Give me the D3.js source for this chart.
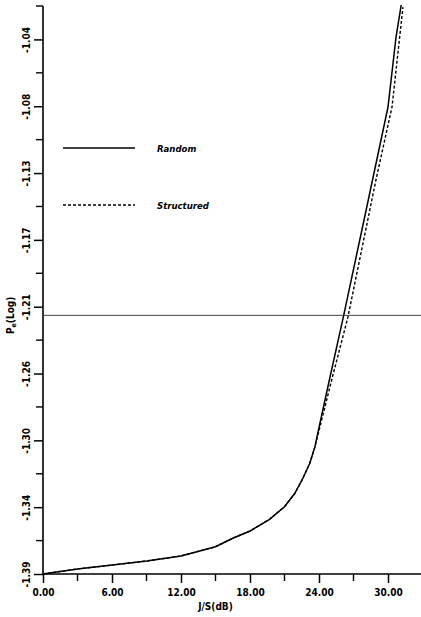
<!DOCTYPE html>
<html>
<head>
<meta charset="utf-8">
<script src="https://cdn.jsdelivr.net/npm/d3@7"></script>
<style>
  body { margin: 0; background: #fff; }
  svg text { font-family: "DejaVu Sans Condensed", "DejaVu Sans", sans-serif; font-weight: bold; fill: #000; }
</style>
</head>
<body>
<div id="chart"></div>
<script>
// J/S in dB
let jsRandom = [0, 3, 6, 9, 12, 15, 16.5, 18, 19.7, 21, 21.9, 22.6, 23.2, 23.65, 23.95, 24.9, 26.1, 28.1, 30, 30.7, 31.15];
let peRandom = [-1.386, -1.3827, -1.3802, -1.3776, -1.3743, -1.3683, -1.3628, -1.3581, -1.3505, -1.3423, -1.3336, -1.3238, -1.3141, -1.3033, -1.2925, -1.2600, -1.2197, -1.1496, -1.0827, -1.0372, -1.0164];

let jsStructured = [0, 3, 6, 9, 12, 15, 16.5, 18, 19.7, 21, 21.9, 22.6, 23.2, 23.65, 23.98, 25.1, 26.5, 28.95, 30.35, 31.3];
let peStructured = [-1.386, -1.3827, -1.3802, -1.3776, -1.3743, -1.3683, -1.3628, -1.3581, -1.3505, -1.3423, -1.3336, -1.3238, -1.3141, -1.3033, -1.2935, -1.2600, -1.2197, -1.1301, -1.0827, -1.0178];

let thresholdPe = -1.218;

let xTickValues = [0, 6, 12, 18, 24, 30];
let xTickLabels = ["0.00", "6.00", "12.00", "18.00", "24.00", "30.00"];
let yTickValues = [-1.386, -1.3426, -1.2992, -1.2558, -1.2124, -1.169, -1.1256, -1.0822, -1.0388];
let yTickLabels = ["-1.39", "-1.34", "-1.30", "-1.26", "-1.21", "-1.17", "-1.13", "-1.08", "-1.04"];

let seriesNames = ["Random", "Structured"];

let W = 421, H = 617;
let margin = {top: 6, right: 0, bottom: 43, left: 43},
    width = W - margin.left - margin.right,
    height = H - margin.top - margin.bottom;

let svg = d3.select("#chart")
  .append("svg")
    .attr("width", W)
    .attr("height", H)
  .append("g")
    .attr("transform", "translate(" + margin.left + "," + margin.top + ")");

let x = d3.scaleLinear()
  .domain([0, width / 11.5])
  .range([0, width]);

let y = d3.scaleLinear()
  .domain([-1.386, -1.386 + 8.5 * 0.0434])
  .range([height, 0]);

// minor ticks
let xMinor = d3.range(3, 33, 6);
let yMinor = yTickValues.map(function(v) { return v + 0.0217; });

// X axis
let xAxis = d3.axisBottom(x)
  .tickValues(xTickValues)
  .tickFormat(function(d, i) { return xTickLabels[i]; })
  .tickSize(9)
  .tickPadding(6);

let gx = svg.append("g")
  .attr("transform", "translate(0," + height + ")")
  .call(xAxis);
gx.select(".domain").attr("stroke-width", 1.6).attr("d", "M0,0H" + width);
gx.selectAll(".tick line").attr("stroke-width", 1.5);
gx.selectAll("text").style("font-size", "10px");
gx.selectAll(".minor")
  .data(xMinor)
  .enter()
  .append("line")
    .attr("x1", function(d) { return x(d); })
    .attr("x2", function(d) { return x(d); })
    .attr("y1", 0)
    .attr("y2", 7)
    .attr("stroke", "#000")
    .attr("stroke-width", 1.4);

// Y axis
let yAxis = d3.axisLeft(y)
  .tickValues(yTickValues)
  .tickFormat(function(d, i) { return yTickLabels[i]; })
  .tickSize(9)
  .tickPadding(0);

let gy = svg.append("g").call(yAxis);
gy.select(".domain").attr("stroke-width", 1.6).attr("d", "M0," + height + "V0");
gy.selectAll(".tick line").attr("stroke-width", 1.5);
gy.selectAll("text")
  .style("font-size", "10px")
  .attr("text-anchor", "middle")
  .attr("dy", null)
  .attr("x", null)
  .attr("transform", "translate(-13,0) rotate(-90)");
gy.selectAll(".minor")
  .data(yMinor)
  .enter()
  .append("line")
    .attr("x1", -7)
    .attr("x2", 0)
    .attr("y1", function(d) { return y(d); })
    .attr("y2", function(d) { return y(d); })
    .attr("stroke", "#000")
    .attr("stroke-width", 1.4);

// threshold line
svg.append("line")
  .attr("x1", 0)
  .attr("x2", width)
  .attr("y1", y(thresholdPe))
  .attr("y2", y(thresholdPe))
  .attr("stroke", "#444")
  .attr("stroke-width", 1);

// curves
let line = d3.line()
  .x(function(d) { return x(d[0]); })
  .y(function(d) { return y(d[1]); });

svg.append("path")
  .datum(d3.zip(jsStructured, peStructured))
  .attr("d", line)
  .attr("fill", "none")
  .attr("stroke", "#000")
  .attr("stroke-width", 1.4)
  .attr("stroke-dasharray", "3,2");

svg.append("path")
  .datum(d3.zip(jsRandom, peRandom))
  .attr("d", line)
  .attr("fill", "none")
  .attr("stroke", "#000")
  .attr("stroke-width", 1.5);

// legend
let legend = svg.append("g").attr("transform", "translate(20,142)");
legend.selectAll("line")
  .data(seriesNames)
  .enter()
  .append("line")
    .attr("x1", 0)
    .attr("x2", 72)
    .attr("y1", function(d, i) { return i * 57; })
    .attr("y2", function(d, i) { return i * 57; })
    .attr("stroke", "#000")
    .attr("stroke-width", 1.4)
    .attr("stroke-dasharray", function(d, i) { return i ? "3,2" : null; });
legend.selectAll("text")
  .data(seriesNames)
  .enter()
  .append("text")
    .attr("x", 94)
    .attr("y", function(d, i) { return i * 57 + 4; })
    .style("font-size", "9.5px")
    .style("font-style", "italic")
    .text(function(d) { return d; });

// axis titles
svg.append("text")
  .attr("x", x(15))
  .attr("y", height + 36)
  .attr("text-anchor", "middle")
  .style("font-size", "10px")
  .text("J/S(dB)");

svg.append("text")
  .attr("transform", "translate(-29," + y(-1.218) + ") rotate(-90)")
  .attr("text-anchor", "middle")
  .style("font-size", "10px")
  .html("P<tspan dy='2' font-size='7px'>e</tspan><tspan dy='-2'>(Log)</tspan>");
</script>
</body>
</html>
